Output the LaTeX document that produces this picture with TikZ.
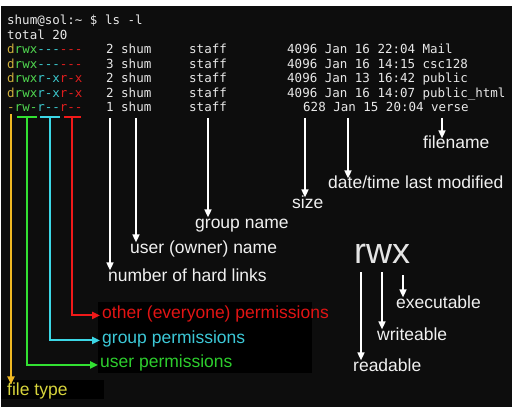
\documentclass[tikz,border=0pt]{standalone}
\usepackage{fontspec}
\setmainfont{Liberation Sans}
\newfontfamily\termfont{DejaVu Sans Mono}
\usetikzlibrary{arrows.meta}
\definecolor{bg}{RGB}{13,13,13}
\definecolor{termw}{RGB}{232,232,232}
\definecolor{pyel}{RGB}{205,175,60}
\definecolor{pgrn}{RGB}{80,215,80}
\definecolor{pcyn}{RGB}{60,200,205}
\definecolor{pred}{RGB}{225,30,30}
\definecolor{lyel}{RGB}{240,185,35}
\definecolor{lgrn}{RGB}{50,225,50}
\definecolor{lcyn}{RGB}{60,215,230}
\definecolor{lred}{RGB}{240,25,25}
\definecolor{tyel}{RGB}{215,212,60}
\definecolor{tgrn}{RGB}{45,205,45}
\definecolor{tcyn}{RGB}{60,200,215}
\definecolor{tred}{RGB}{225,20,20}
\definecolor{labw}{RGB}{240,240,240}
\newcommand{\perms}[4]{{\color{pyel}#1}{\color{pgrn}#2}{\color{pcyn}#3}{\color{pred}#4}}
\tikzset{
  term/.style={font=\termfont\fontsize{12.5}{14}\selectfont, text=termw, anchor=base west, inner sep=0pt},
  lab/.style={font=\fontsize{17.5}{20}\selectfont, text=labw, anchor=base west, inner xsep=0pt, inner ysep=3.2pt, text height=0.72em, text depth=0.21em},
  big/.style={font=\fontsize{36}{40}\selectfont, text=labw!95!black, anchor=base west, inner sep=0pt},
  warrow/.style={draw=white, line width=1.6pt, -{Triangle[width=7pt,length=8pt]}},
  carrow/.style={line width=2pt, -{Triangle[width=7pt,length=8pt]}},
  cline/.style={line width=2pt},
}
\begin{document}
\begin{tikzpicture}[x=1pt,y=-1pt]
\useasboundingbox (0,0) rectangle (514,409);
\fill[white] (0,0) rectangle (514,409);
\fill[bg] (1,6) rectangle (512,407);
% label boxes
\fill[black] (98,302) rectangle (312,373);
\fill[black] (1,380) rectangle (104,399);

% terminal
\node[term] (prompt) at (7,25) {shum@sol:\textasciitilde\ \$ ls -l};
\node[term] (total) at (7,39.5) {total 20};
\node[term] (p1) at (7,54) {\perms{d}{rwx}{---}{---}};
\node[term] (p2) at (7,68.5) {\perms{d}{rwx}{---}{---}};
\node[term] (p3) at (7,83) {\perms{d}{rwx}{r-x}{r-x}};
\node[term] (p4) at (7,97.5) {\perms{d}{rwx}{r-x}{r-x}};
\node[term] (p5) at (7,112) {\perms{-}{rw-}{r--}{r--}};
\foreach \y/\n/\l in {54/1/2, 68.5/2/3, 83/3/2, 97.5/4/2, 112/5/1}{
  \node[term] (n\n) at (106,\y) {\l};
  \node[term] (u\n) at (121,\y) {shum};
  \node[term] (g\n) at (189,\y) {staff};
}
\node[term] (r1) at (287,54) {4096 Jan 16 22:04 Mail};
\node[term] (r2) at (287,68.5) {4096 Jan 16 14:15 csc128};
\node[term] (r3) at (287,83) {4096 Jan 13 16:42 public};
\node[term] (r4) at (287,97.5) {4096 Jan 16 14:07 public\_html};
\node[term] (r5) at (303,112) {628 Jan 15 20:04 verse};

% white labels
\node[lab] (fname) at (423,149) {filename};
\node[lab] (dtime) at (328,189) {date/time last modified};
\node[lab] (size) at (292,208) {size};
\node[lab] (gname) at (195,228) {group name};
\node[lab] (uname) at (130,253) {user (owner) name};
\node[lab] (links) at (108,281) {number of hard links};

\coordinate (cf) at (442,118);
\coordinate (cd) at (348,118);
\coordinate (cs) at (305,118);
\coordinate (cg) at (208,118);
\coordinate (cu) at (136,118);
\coordinate (cn) at (110,118);
\draw[warrow] (cf) -- (cf |- fname.north);
\draw[warrow] (cd) -- (cd |- dtime.north);
\draw[warrow] (cs) -- (cs |- size.north);
\draw[warrow] (cg) -- (cg |- gname.north);
\draw[warrow] (cu) -- (cu |- uname.north);
\draw[warrow] (cn) -- (cn |- links.north);

% coloured labels
\node[lab, text=tred] (oth) at (102,318) {other (everyone) permissions};
\node[lab, text=tcyn] (grp) at (102,343) {group permissions};
\node[lab, text=tgrn] (usr) at (100,367.5) {user permissions};
\node[lab, text=tyel] (ftype) at (7,395) {file type};

% coloured connectors
\coordinate (yt) at (11,114);
\draw[carrow, draw=lyel] (yt) -- (yt |- ftype.north);
\coordinate (gl) at (17,117); \coordinate (gr) at (37,117); \coordinate (gt) at (27,117);
\coordinate (cl) at (40,117); \coordinate (cr) at (60,117); \coordinate (ct) at (50,117);
\coordinate (rl) at (64,117); \coordinate (rr) at (81,117); \coordinate (rt) at (72,117);
\draw[cline, draw=lgrn] (gl) -- (gr);
\draw[cline, draw=lcyn] (cl) -- (cr);
\draw[cline, draw=lred] (rl) -- (rr);
\draw[carrow, draw=lgrn] (gt) |- ([xshift=-2pt]usr.west);
\draw[carrow, draw=lcyn] (ct) |- ([xshift=-2pt]grp.west);
\draw[carrow, draw=lred] (rt) |- ([xshift=-2pt]oth.west);

% rwx legend
\node[big] (rwx) at (354,263) {rwx};
\node[lab] (exe) at (396,308) {executable};
\node[lab] (wri) at (377,340) {writeable};
\node[lab] (rea) at (353,371) {readable};
\coordinate (cr1) at (361,272);
\coordinate (cw1) at (382,272);
\coordinate (cx1) at (403,275);
\draw[warrow] (cx1) -- (cx1 |- exe.north);
\draw[warrow] (cw1) -- (cw1 |- wri.north);
\draw[warrow] (cr1) -- (cr1 |- rea.north);
\end{tikzpicture}
\end{document}
